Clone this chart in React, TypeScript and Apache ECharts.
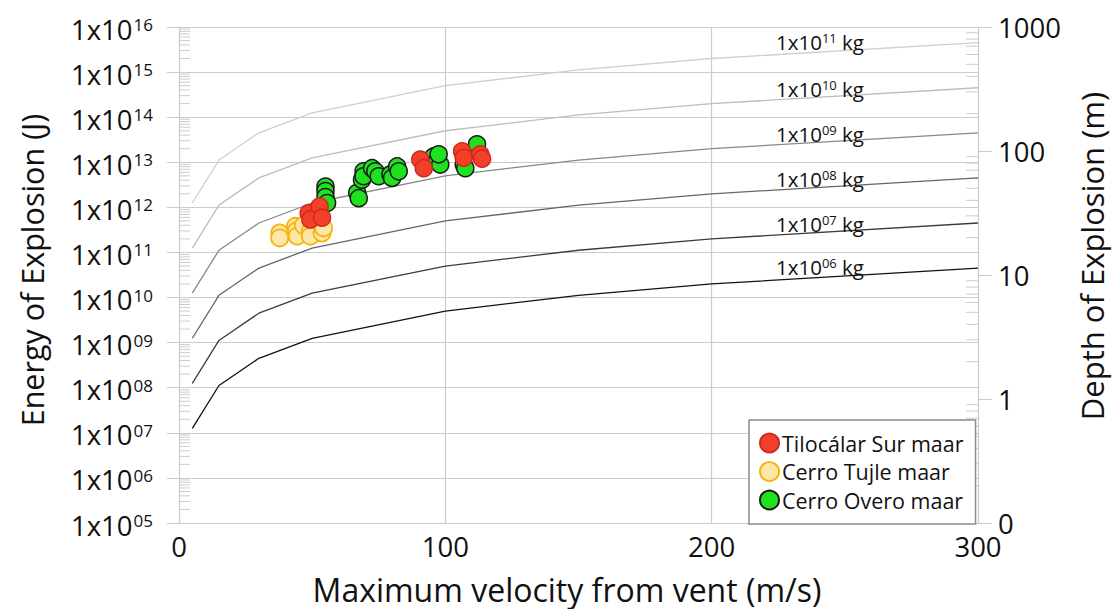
import React, { useEffect, useRef } from "react";
import * as echarts from "echarts";

const FONT = "Open Sans";

// Mass curves: velocity (m/s) vs energy (J)
const VELOCITY = [5, 15, 30, 50, 100, 150, 200, 300];
const E_1E06 = [1.25e7, 1.12e8, 4.5e8, 1.25e9, 5e9, 1.12e10, 2e10, 4.5e10];
const E_1E07 = [1.25e8, 1.12e9, 4.5e9, 1.25e10, 5e10, 1.12e11, 2e11, 4.5e11];
const E_1E08 = [1.25e9, 1.12e10, 4.5e10, 1.25e11, 5e11, 1.12e12, 2e12, 4.5e12];
const E_1E09 = [1.25e10, 1.12e11, 4.5e11, 1.25e12, 5e12, 1.12e13, 2e13, 4.5e13];
const E_1E10 = [1.25e11, 1.12e12, 4.5e12, 1.25e13, 5e13, 1.12e14, 2e14, 4.5e14];
const E_1E11 = [1.25e12, 1.12e13, 4.5e13, 1.25e14, 5e14, 1.12e15, 2e15, 4.5e15];
const MASS_EXP = ["06", "07", "08", "09", "10", "11"];
const MASS_COLORS = ["#111111", "#3c3c3c", "#666666", "#888888", "#bdbdbd", "#cfcfcf"];
const MASS_LABEL_Y = [265, 222, 177, 132, 87, 40];

// Observations [velocity m/s, energy J]
const TILOCALAR = [
  [48.7, 7.5e11], [52.8, 1.05e12], [49.3, 5.4e11], [53.7, 5.9e11],
  [90.6, 1.15e13], [91.9, 7.4e12], [106.3, 1.75e13], [106.9, 1.26e13],
  [113.1, 1.5e13], [113.8, 1.2e13],
];
const TUJLE = [
  [37.8, 2.7e11], [37.8, 2.1e11], [43.7, 3.8e11], [44.1, 3.0e11], [44.4, 2.3e11],
  [46.7, 4.0e11], [49.3, 3.0e11], [49.3, 2.3e11], [53.7, 2.7e11], [54.3, 3.5e11],
];
const OVERO = [
  [55, 2.9e12], [55, 2.3e12], [55, 1.7e12], [55.6, 1.25e12],
  [66.9, 2.1e12], [67.5, 1.6e12], [68.7, 4.1e12], [69.3, 6.3e12], [69.3, 4.9e12],
  [72.5, 7.4e12], [73.7, 6.3e12], [75, 4.9e12], [79.4, 5.4e12], [80, 4.5e12],
  [81.9, 8.1e12], [82.5, 6.3e12], [95.6, 1.35e13], [96.9, 1.05e13], [98.1, 8.9e12],
  [97.5, 1.5e13], [106.9, 8.9e12], [107.5, 7.4e12], [111.9, 2.5e13],
];

const X_TICKS = [0, 100, 200, 300];
const ENERGY_DECADES = [5, 6, 7, 8, 9, 10, 11, 12, 13, 14, 15, 16];
const DEPTH_DECADES = [-1, 0, 1, 2, 3];
const MINOR_MULT = [2, 3, 4, 5, 6, 7, 8, 9];

const GRID = "#cccccc";

export default function App() {
  const ref = useRef<HTMLDivElement>(null);
  useEffect(() => {
    document.body.style.margin = "0";
    const chart = echarts.init(ref.current!, null, { renderer: "svg" });

    const leftMinor: number[][] = [];
    ENERGY_DECADES.slice(0, -1).forEach((d) =>
      MINOR_MULT.forEach((m) => leftMinor.push([X_TICKS[0], m * Math.pow(10, d)]))
    );
    const rightMinor: number[][] = [];
    DEPTH_DECADES.slice(0, -1).forEach((d) =>
      MINOR_MULT.forEach((m) => rightMinor.push([X_TICKS[3], m * Math.pow(10, d)]))
    );

    const massSeries = [E_1E06, E_1E07, E_1E08, E_1E09, E_1E10, E_1E11].map((arr, i) => ({
      type: "line",
      name: "m" + MASS_EXP[i],
      data: VELOCITY.map((v, j) => [v, arr[j]]),
      showSymbol: false,
      symbol: "none",
      lineStyle: { color: MASS_COLORS[i], width: 1.3 },
      z: 2,
      silent: true,
    }));

    const option: any = {
      animation: false,
      textStyle: { fontFamily: FONT, color: "#111" },
      grid: { left: 179, right: 134, top: 27, bottom: 86, containLabel: false },
      legend: {
        data: ["Tilocálar Sur maar", "Cerro Tujle maar", "Cerro Overo maar"],
        orient: "vertical",
        left: 749,
        top: 420,
        padding: [12, 12, 13, 10],
        itemGap: 6.5,
        itemWidth: 19,
        itemHeight: 19,
        backgroundColor: "#fff",
        borderColor: "#8a8a8a",
        borderWidth: 1.5,
        textStyle: { fontSize: 21.5, lineHeight: 21, fontFamily: FONT, color: "#111", padding: [0, 0, 0, -2] },
      },
      xAxis: {
        type: "value",
        min: X_TICKS[0],
        max: X_TICKS[3],
        interval: 100,
        axisLine: { show: true, lineStyle: { color: GRID } },
        axisTick: { show: false },
        splitLine: { show: true, lineStyle: { color: GRID, width: 1.2 } },
        axisLabel: { fontSize: 27.5, lineHeight: 28, color: "#111", margin: 9, fontFamily: FONT },
      },
      yAxis: [
        {
          type: "log",
          logBase: 10,
          min: 1e5,
          max: 1e16,
          interval: 1,
          axisLine: { show: true, lineStyle: { color: GRID } },
          axisTick: { show: true, inside: false, length: 12, lineStyle: { color: GRID } },
          splitLine: { show: true, lineStyle: { color: GRID, width: 1.2 } },
          axisLabel: {
            margin: 26,
            color: "#111",
            formatter: (v: number) => {
              const e = Math.round(Math.log10(v));
              return "{b|1x10}{s|" + (e < 10 ? "0" + e : "" + e) + "}";
            },
            rich: {
              b: { fontSize: 27.5, fontFamily: FONT, lineHeight: 32, verticalAlign: "bottom" },
              s: { fontSize: 17, fontFamily: FONT, verticalAlign: "top", lineHeight: 17, padding: [5, 0, 0, 1] },
            },
          },
        },
        {
          type: "log",
          logBase: 10,
          min: 0.1,
          max: 1000,
          interval: 1,
          position: "right",
          axisLine: { show: true, lineStyle: { color: GRID } },
          axisTick: { show: true, inside: false, length: 14, lineStyle: { color: GRID } },
          splitLine: { show: false },
          axisLabel: {
            margin: 20,
            fontSize: 27.5,
            color: "#111",
            fontFamily: FONT,
            formatter: (v: number) => (v < 0.5 ? "0" : String(Math.round(v))),
          },
        },
      ],
      series: [
        ...massSeries,
        {
          type: "custom",
          name: "minorLeft",
          yAxisIndex: 0,
          silent: true,
          z: 1,
          data: leftMinor,
          encode: { x: 0, y: 1 },
          renderItem: (_p: any, api: any) => {
            const p = api.coord([api.value(0), api.value(1)]);
            return {
              type: "line",
              shape: { x1: p[0], y1: p[1], x2: p[0] + 11, y2: p[1] },
              style: { stroke: GRID, lineWidth: 1 },
            };
          },
        },
        {
          type: "custom",
          name: "minorRight",
          yAxisIndex: 1,
          silent: true,
          z: 1,
          data: rightMinor,
          encode: { x: 0, y: 1 },
          renderItem: (_p: any, api: any) => {
            const p = api.coord([api.value(0), api.value(1)]);
            return {
              type: "line",
              shape: { x1: p[0] - 12, y1: p[1], x2: p[0], y2: p[1] },
              style: { stroke: GRID, lineWidth: 1 },
            };
          },
        },
        {
          type: "scatter",
          name: "Cerro Tujle maar",
          data: TUJLE,
          symbol: "circle",
          symbolSize: 17,
          z: 3,
          itemStyle: { color: "#fde6a6", borderColor: "#f5b414", borderWidth: 1.8, opacity: 1 },
        },
        {
          type: "scatter",
          name: "Cerro Overo maar",
          data: OVERO,
          symbol: "circle",
          symbolSize: 17,
          z: 3,
          itemStyle: { color: "#1fe21f", borderColor: "#1a1a1a", borderWidth: 1.5, opacity: 1 },
        },
        {
          type: "scatter",
          name: "Tilocálar Sur maar",
          data: TILOCALAR,
          symbol: "circle",
          symbolSize: 17,
          z: 3,
          itemStyle: { color: "#f2402a", borderColor: "#cc2a1a", borderWidth: 1.5, opacity: 1 },
        },
      ],
      graphic: [
        {
          type: "text",
          x: 567,
          y: 589,
          style: {
            text: "Maximum velocity from vent (m/s)",
            fontSize: 32,
            lineHeight: 32,
            fontFamily: FONT,
            fill: "#111",
            align: "center",
            verticalAlign: "middle",
          },
        },
        {
          type: "text",
          x: 32,
          y: 270,
          rotation: Math.PI / 2,
          style: {
            text: "Energy of Explosion (J)",
            fontSize: 30.5,
            fontFamily: FONT,
            fill: "#111",
            align: "center",
            verticalAlign: "middle",
          },
        },
        {
          type: "text",
          x: 1092,
          y: 256,
          rotation: Math.PI / 2,
          style: {
            text: "Depth of Explosion (m)",
            fontSize: 31,
            fontFamily: FONT,
            fill: "#111",
            align: "center",
            verticalAlign: "middle",
          },
        },
        ...MASS_EXP.map((e, i) => ({
          type: "text",
          x: 820,
          y: MASS_LABEL_Y[i],
          z: 10,
          style: {
            text: "{b|1x10}{s|" + e + "}{b| kg}",
            align: "center",
            verticalAlign: "middle",
            fill: "#111",
            rich: {
              b: { fontSize: 20.5, fontFamily: FONT, lineHeight: 24, verticalAlign: "bottom", fill: "#111" },
              s: { fontSize: 13, fontFamily: FONT, lineHeight: 13, verticalAlign: "top", fill: "#111", padding: [3, 0, 0, 0] },
            },
          },
        })),
      ],
    };
    chart.setOption(option);
    return () => chart.dispose();
  }, []);
  return <div ref={ref} style={{ width: 1112, height: 609 }} />;
}
